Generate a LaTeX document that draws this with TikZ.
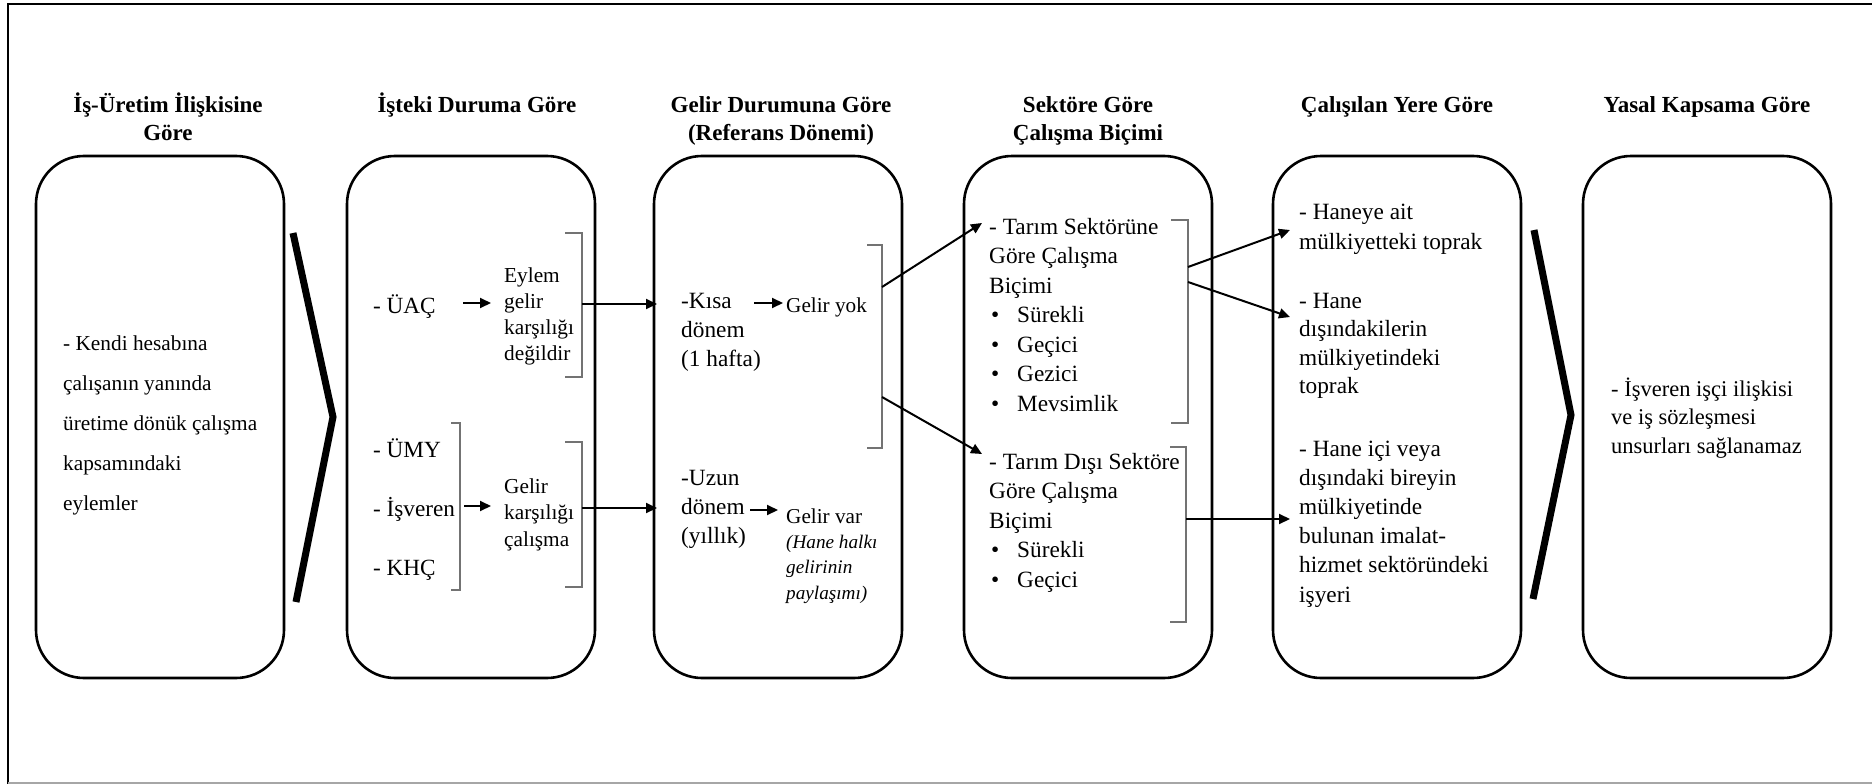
\documentclass[tikz,border=0pt]{standalone}
\usepackage{fontspec}
\setmainfont{Liberation Serif}
\usetikzlibrary{arrows.meta}
\newcommand{\mlines}[3]{{\fontsize{#1}{#2}\selectfont\begin{tabular}[t]{@{}l@{}}#3\end{tabular}}}
\newcommand{\clines}[3]{{\fontsize{#1}{#2}\selectfont\bfseries\begin{tabular}[t]{@{}c@{}}#3\end{tabular}}}
\newcommand{\bul}{\hspace*{2pt}\makebox[26pt][l]{•}}
\begin{document}
\begin{tikzpicture}[x=1pt,y=-1pt,
  box/.style={draw=black, line width=2.6pt, rounded corners=48pt, minimum width=248pt, minimum height=522pt, inner sep=0pt},
  ttl/.style={inner sep=0pt, anchor=base},
  txt/.style={inner sep=0pt, anchor=base west},
  brk/.style={draw=black!55, line width=1.3pt},
  arr/.style={draw, line width=2pt, -{Triangle[length=11pt,width=10pt]}},
  chev/.style={line width=7pt, line join=miter},
]
\useasboundingbox (0,0) rectangle (1872,784);
% outer frame
\draw[line width=2.5pt] (8,784) -- (8,4) -- (1872,4);
\draw[black!35, line width=2pt] (8,783) -- (1872,783);

% titles
\node[ttl] (t1) at (168,112) {\clines{23}{28.5}{İş-Üretim İlişkisine\\ Göre}};
\node[ttl] (t2) at (477,112) {\clines{23}{28.5}{İşteki Duruma Göre}};
\node[ttl] (t3) at (781,112) {\clines{23}{28.5}{Gelir Durumuna Göre\\ (Referans Dönemi)}};
\node[ttl] (t4) at (1088,112) {\clines{23}{28.5}{Sektöre Göre\\ Çalışma Biçimi}};
\node[ttl] (t5) at (1397,112) {\clines{23}{28.5}{Çalışılan Yere Göre}};
\node[ttl] (t6) at (1707,112) {\clines{23}{28.5}{Yasal Kapsama Göre}};

% boxes
\node[box] (B1) at (160,417) {};
\node[box] (B2) at (471,417) {};
\node[box] (B3) at (778,417) {};
\node[box] (B4) at (1088,417) {};
\node[box] (B5) at (1397,417) {};
\node[box] (B6) at (1707,417) {};

% chevrons
\draw[chev] (293,233) -- (333,417) -- (296,602);
\draw[chev] (1534,230) -- (1571,415) -- (1533,599);

% box 1
\node[txt] (b1) at (63,350) {\mlines{21.3}{40}{- Kendi hesabına\\ çalışanın yanında\\ üretime dönük çalışma\\ kapsamındaki\\ eylemler}};

% box 2
\node[txt] (uac) at (373,313) {\mlines{23.2}{29}{- ÜAÇ}};
\node[txt] (eylem) at (504,282) {\mlines{21.3}{26}{Eylem\\ gelir\\ karşılığı\\ değildir}};
\node[txt] (umy) at (373,457) {\mlines{23.2}{59}{- ÜMY\\ - İşveren\\ - KHÇ}};
\node[txt] (gk) at (504,493) {\mlines{21.3}{26.5}{Gelir\\ karşılığı\\ çalışma}};
\coordinate (uacE) at (463,303);
\coordinate (eylemW) at (491,303);
\coordinate (umyE) at (464,506);
\coordinate (gkW) at (491,506);
\draw[arr] (uacE) -- (eylemW);
\draw[arr] (umyE) -- (gkW);
\draw[brk] (451,423) -- (460,423) -- (460,590) -- (451,590);
\draw[brk] (565,233) -- (582,233) -- (582,377) -- (565,377);
\draw[brk] (565,442) -- (582,442) -- (582,587) -- (565,587);
\coordinate (br2a) at (582,304);
\coordinate (br2b) at (582,508);

% box 3
\node[txt] (kisa) at (681,308) {\mlines{23.3}{29}{-Kısa\\ dönem\\ (1 hafta)}};
\node[txt] (yok) at (786,312) {\mlines{21.2}{29}{Gelir yok}};
\node[txt] (uzun) at (681,485) {\mlines{23.3}{29}{-Uzun\\ dönem\\ (yıllık)}};
\node[txt] (var) at (786,523) {\mlines{21.2}{29}{Gelir var}};
\node[txt] (hane) at (786,548) {\mlines{19.2}{25.5}{\itshape (Hane halkı\\ \itshape gelirinin\\ \itshape paylaşımı)}};
\coordinate (kisaW) at (657,304);
\coordinate (uzunW) at (657,508);
\draw[arr] (br2a) -- (kisaW);
\draw[arr] (br2b) -- (uzunW);
\coordinate (kisaE) at (754,303);
\coordinate (yokW) at (783,303);
\coordinate (uzunE) at (750,510);
\coordinate (varW) at (778,510);
\draw[arr] (kisaE) -- (yokW);
\draw[arr] (uzunE) -- (varW);
\draw[brk] (867,245) -- (882,245) -- (882,448) -- (867,448);
\coordinate (br3a) at (882,287);
\coordinate (br3b) at (882,397);

% box 4
\node[txt] (tarim) at (989,234) {\mlines{23.3}{29.5}{- Tarım Sektörüne\\ Göre Çalışma\\ Biçimi\\ \bul Sürekli\\ \bul Geçici\\ \bul Gezici\\ \bul Mevsimlik}};
\node[txt] (disi) at (989,469) {\mlines{23.3}{29.5}{- Tarım Dışı Sektöre\\ Göre Çalışma\\ Biçimi\\ \bul Sürekli\\ \bul Geçici}};
\coordinate (tarimW) at (982,223);
\coordinate (disiW) at (982,454);
\draw[arr] (br3a) -- (tarimW);
\draw[arr] (br3b) -- (disiW);
\draw[brk] (1171,220) -- (1188,220) -- (1188,423) -- (1171,423);
\draw[brk] (1170,447) -- (1186,447) -- (1186,622) -- (1170,622);
\coordinate (br4a) at (1188,267);
\coordinate (br4b) at (1188,282);
\coordinate (br4c) at (1186,519);

% box 5
\node[txt] (ait) at (1299,219) {\mlines{23.3}{30}{- Haneye ait\\ mülkiyetteki toprak}};
\node[txt] (dis) at (1299,308) {\mlines{23.3}{28.5}{- Hane\\ dışındakilerin\\ mülkiyetindeki\\ toprak}};
\node[txt] (ici) at (1299,456) {\mlines{23.3}{29.2}{- Hane içi veya\\ dışındaki bireyin\\ mülkiyetinde\\ bulunan imalat-\\ hizmet sektöründeki\\ işyeri}};
\coordinate (aitW) at (1290,230);
\coordinate (disW) at (1290,317);
\coordinate (iciW) at (1290,519);
\draw[arr] (br4a) -- (aitW);
\draw[arr] (br4b) -- (disW);
\draw[arr] (br4c) -- (iciW);

% box 6
\node[txt] (yasal) at (1611,396) {\mlines{22.5}{28.5}{- İşveren işçi ilişkisi\\ ve iş sözleşmesi\\ unsurları sağlanamaz}};
\end{tikzpicture}
\end{document}
